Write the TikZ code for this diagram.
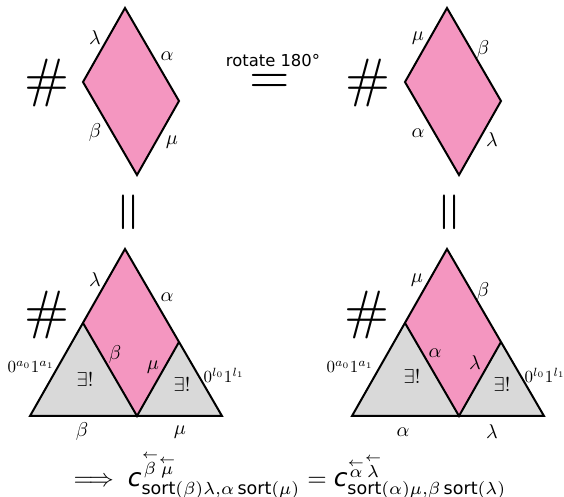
\documentclass[tikz,border=0pt]{standalone}
\usepackage{amsmath}
\usepackage{graphicx}
\usepackage{fontspec}
\newfontfamily\dvs{DejaVu Sans}
\definecolor{pinkfill}{RGB}{244,150,192}
\definecolor{grayfill}{RGB}{217,217,217}
\newcommand{\bighash}{\scalebox{2.7}{$\#$}}
\newcommand{\bigeq}{\scalebox{2.6}{$=$}}
\newcommand{\la}[1]{\overset{\leftarrow}{#1}}
\tikzset{
  edge/.style={line width=1pt, line join=miter},
  lab/.style={inner sep=0pt, font=\normalsize},
  big/.style={inner sep=0pt},
}
\begin{document}
\begin{tikzpicture}[x=0.5pt,y=-0.5pt]
\useasboundingbox (0,0) rectangle (564,497);
% ---------- top-left rhombus
\coordinate (t1T) at (125,8);
\coordinate (t1L) at (83,82);
\coordinate (t1R) at (179,101);
\coordinate (t1B) at (137,175);
\filldraw[edge, fill=pinkfill] (t1T) -- (t1R) -- (t1B) -- (t1L) -- cycle;
\node[lab] (l1a) at (95,38) {$\lambda$};
\node[lab] (l1b) at (167,56) {$\alpha$};
\node[lab] (l1c) at (95,133) {$\beta$};
\node[lab] (l1d) at (172,142) {$\mu$};
\node[big] (h1) at (47,83) {\bighash};
% ---------- middle
\node[inner sep=0pt, font=\dvs\fontsize{8.2}{9}\selectfont] (rot) at (273,61) {rotate 180°};
\node[big] (eq) at (270,84) {\bigeq};
% ---------- top-right rhombus
\begin{scope}[xshift=161pt]
\coordinate (t2T) at (125,8);
\coordinate (t2L) at (83,82);
\coordinate (t2R) at (179,101);
\coordinate (t2B) at (137,175);
\filldraw[edge, fill=pinkfill] (t2T) -- (t2R) -- (t2B) -- (t2L) -- cycle;
\end{scope}
\node[lab] (r1a) at (418,38) {$\mu$};
\node[lab] (r1b) at (483,50) {$\beta$};
\node[lab] (r1c) at (418,133) {$\alpha$};
\node[lab] (r1d) at (492,140) {$\lambda$};
\node[big] (h2) at (368,83) {\bighash};
% ---------- vertical equals
\node[big, rotate=90] (v1) at (132,212) {\bigeq};
\node[big, rotate=90] (v2) at (453,212) {\bigeq};
% ---------- bottom-left
\coordinate (bA) at (125,249);
\coordinate (bL) at (83,323);
\coordinate (bR) at (179,342);
\coordinate (bB) at (137,416);
\coordinate (bBL) at (30,416);
\coordinate (bBR) at (222,416);
\fill[grayfill] (bL) -- (bBL) -- (bB) -- cycle;
\fill[grayfill] (bR) -- (bB) -- (bBR) -- cycle;
\fill[pinkfill] (bA) -- (bR) -- (bB) -- (bL) -- cycle;
\draw[edge] (bA) -- (bBR) -- (bBL) -- cycle;
\draw[edge] (bL) -- (bB) -- (bR);
\node[lab] (b1a) at (95,280) {$\lambda$};
\node[lab] (b1b) at (167,297) {$\alpha$};
\node[big] (h3) at (47,315) {\bighash};
\node[lab] (b1c) at (115,355) {$\beta$};
\node[lab] (b1d) at (153,367) {$\mu$};
\node[lab] (b1e) at (31,367) {\scalebox{0.85}{$0^{a_0}1^{a_1}$}};
\node[lab] (b1f) at (85,380) {$\exists!$};
\node[lab] (b1g) at (182,385) {$\exists!$};
\node[lab] (b1h) at (224,375) {\scalebox{0.85}{$0^{l_0}1^{l_1}$}};
\node[lab] (b1i) at (82,432) {$\beta$};
\node[lab] (b1j) at (180,432) {$\mu$};
% ---------- bottom-right
\begin{scope}[xshift=161pt]
\coordinate (cA) at (125,249);
\coordinate (cL) at (83,323);
\coordinate (cR) at (179,342);
\coordinate (cB) at (137,416);
\coordinate (cBL) at (30,416);
\coordinate (cBR) at (222,416);
\fill[grayfill] (cL) -- (cBL) -- (cB) -- cycle;
\fill[grayfill] (cR) -- (cB) -- (cBR) -- cycle;
\fill[pinkfill] (cA) -- (cR) -- (cB) -- (cL) -- cycle;
\draw[edge] (cA) -- (cBR) -- (cBL) -- cycle;
\draw[edge] (cL) -- (cB) -- (cR);
\end{scope}
\node[lab] (b2a) at (417,280) {$\mu$};
\node[lab] (b2b) at (483,292) {$\beta$};
\node[big] (h4) at (367,315) {\bighash};
\node[lab] (b2c) at (435,353) {$\alpha$};
\node[lab] (b2d) at (475,363) {$\lambda$};
\node[lab] (b2e) at (350,367) {\scalebox{0.85}{$0^{a_0}1^{a_1}$}};
\node[lab] (b2f) at (412,377) {$\exists!$};
\node[lab] (b2g) at (502,385) {$\exists!$};
\node[lab] (b2h) at (545,375) {\scalebox{0.85}{$0^{l_0}1^{l_1}$}};
\node[lab] (b2i) at (403,432) {$\alpha$};
\node[lab] (b2j) at (492,432) {$\lambda$};
% ---------- equation
\node[inner sep=0pt] (formula) at (290,475) {\scalebox{1.25}{$\Longrightarrow\;
 \text{\dvs\itshape c}^{\la{\beta}\la{\mu}}_{\text{\dvs sort}(\beta)\lambda,\alpha\,\text{\dvs sort}(\mu)}
 = \text{\dvs\itshape c}^{\la{\alpha}\la{\lambda}}_{\text{\dvs sort}(\alpha)\mu,\beta\,\text{\dvs sort}(\lambda)}$}};
\end{tikzpicture}
\end{document}
